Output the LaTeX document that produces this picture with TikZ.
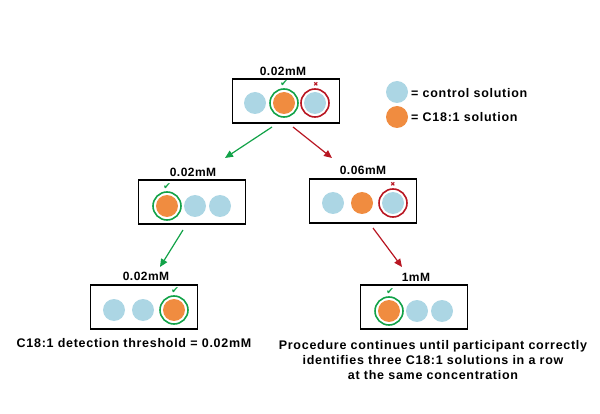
\documentclass[tikz,border=0pt]{standalone}
\usepackage{fontspec}
\setmainfont{Liberation Sans}
\newfontfamily\symfont{DejaVu Sans}
\usetikzlibrary{arrows.meta}
\definecolor{ctrl}{RGB}{172,214,228}
\definecolor{c18}{RGB}{240,140,64}
\definecolor{okgreen}{RGB}{18,162,72}
\definecolor{badred}{RGB}{184,22,34}
\tikzset{
  tray/.style={draw=black, line width=1.4pt, minimum width=107pt, minimum height=44pt, inner sep=0pt},
  ctrlsol/.style={circle, fill=ctrl, minimum size=22pt, inner sep=0pt},
  c18sol/.style={circle, fill=c18, minimum size=22pt, inner sep=0pt},
  okring/.style={draw=okgreen, line width=1.6pt, circle, minimum size=28pt, inner sep=0pt},
  badring/.style={draw=badred, line width=1.6pt, circle, minimum size=28pt, inner sep=0pt},
  conc/.style={font=\bfseries\fontsize{12}{14}\selectfont\addfontfeature{LetterSpace=4}, inner sep=0pt},
  lbl/.style={font=\bfseries\fontsize{12.5}{15}\selectfont\addfontfeature{LetterSpace=5.8}, inner sep=0pt, align=center},
  okmark/.style={text=okgreen, font=\symfont\fontsize{9.5}{9.5}\selectfont, inner sep=0pt},
  badmark/.style={text=badred, font=\symfont\bfseries\fontsize{6}{6}\selectfont, inner sep=0pt},
  okarrow/.style={draw=okgreen, line width=1.2pt, -{Triangle[length=8pt,width=7pt]}},
  badarrow/.style={draw=badred, line width=1.2pt, -{Triangle[length=8pt,width=7pt]}},
}
\begin{document}
\begin{tikzpicture}[x=1pt,y=-1pt]
\useasboundingbox (0,0) rectangle (600,414);
% top tray
\node[tray] (t0) at (286,101) {};
\node[conc] (t0l) at (283,71) {0.02mM};
\node[ctrlsol] (t0a) at (255,103) {};
\node[c18sol] (t0b) at (284,103) {};
\node[okring] (t0br) at (284,103) {};
\node[ctrlsol] (t0c) at (315,103) {};
\node[badring] (t0cr) at (315,103) {};
\node[okmark] (t0ok) at (284,84) {✔};
\node[badmark] (t0bad) at (316,84) {✖};
% legend
\node[ctrlsol] (lgc) at (397,92) {};
\node[c18sol] (lgo) at (397,117) {};
\node[lbl, anchor=west] (lgct) at (411,93) {= control solution};
\node[lbl, anchor=west] (lgot) at (411,117) {= C18:1 solution};
% middle left
\node[tray] (ml) at (192,202) {};
\node[conc] (mll) at (193,172) {0.02mM};
\node[c18sol] (mla) at (167,206) {};
\node[okring] (mlar) at (167,206) {};
\node[ctrlsol] (mlb) at (195,206) {};
\node[ctrlsol] (mlc) at (220,206) {};
\node[okmark] (mlok) at (167,187) {✔};
% middle right
\node[tray] (mr) at (363,201) {};
\node[conc] (mrl) at (363,170) {0.06mM};
\node[ctrlsol] (mra) at (333,203) {};
\node[c18sol] (mrb) at (362,203) {};
\node[ctrlsol] (mrc) at (393,203) {};
\node[badring] (mrcr) at (393,203) {};
\node[badmark] (mrbad) at (393,184) {✖};
% bottom left
\node[tray] (bl) at (144,307) {};
\node[conc] (bll) at (146,276) {0.02mM};
\node[ctrlsol] (bla) at (114,310) {};
\node[ctrlsol] (blb) at (143,310) {};
\node[c18sol] (blc) at (174,310) {};
\node[okring] (blcr) at (174,310) {};
\node[okmark] (blok) at (175,291) {✔};
\node[lbl] (blt) at (134,343) {C18:1 detection threshold = 0.02mM};
% bottom right
\node[tray] (br) at (414,307) {};
\node[conc] (brl) at (416,277) {1mM};
\node[c18sol] (bra) at (389,311) {};
\node[okring] (brar) at (389,311) {};
\node[ctrlsol] (brb) at (417,311) {};
\node[ctrlsol] (brc) at (442,311) {};
\node[okmark] (brok) at (390,292) {✔};
\node[lbl] (brt) at (433,360) {Procedure continues until participant correctly\\identifies three C18:1 solutions in a row\\at the same concentration};
% arrows
\coordinate (g1s) at (272,127);
\coordinate (g1e) at (225,158);
\coordinate (r1s) at (293,127);
\coordinate (r1e) at (332,158);
\coordinate (g2s) at (183,230);
\coordinate (g2e) at (160,267);
\coordinate (r2s) at (373,228);
\coordinate (r2e) at (402,267);
\draw[okarrow] (g1s) -- (g1e);
\draw[badarrow] (r1s) -- (r1e);
\draw[okarrow] (g2s) -- (g2e);
\draw[badarrow] (r2s) -- (r2e);
\end{tikzpicture}
\end{document}
